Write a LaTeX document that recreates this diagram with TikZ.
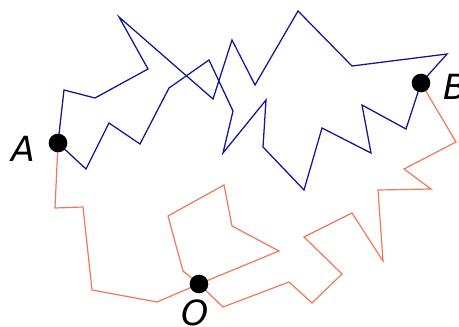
\documentclass[tikz,border=0pt]{standalone}
\usepackage{fontspec}
\setmainfont{DejaVu Sans}
\usepackage{tikz}
\usetikzlibrary{positioning}
\definecolor{walkblue}{RGB}{20,20,150}
\definecolor{walkorange}{RGB}{240,120,90}
\begin{document}
\begin{tikzpicture}[
  x=0.75pt, y=-0.75pt,
  dot/.style={circle, fill=black, inner sep=0pt, minimum size=14pt},
  tag/.style={font=\fontsize{26}{30}\selectfont\itshape, inner sep=0pt},
  upper/.style={draw=walkblue, line width=0.95pt, line join=miter},
  lower/.style={draw=walkorange, line width=0.9pt, line join=miter}
]
\useasboundingbox (0,0) rectangle (459,327);
\coordinate (A) at (58,143);
\coordinate (B) at (421,83);
\coordinate (O) at (199,284);
\draw[upper] (A) -- (64,90) -- (95,98) -- (148,69) -- (119,17) -- (213,99)
  -- (232,40) -- (255,85) -- (298,11) -- (352,66) -- (447,54) -- (B);
\draw[upper] (A) -- (86,169) -- (109,123) -- (140,144) -- (169,88) -- (209,60)
  -- (233,111) -- (223,153) -- (266,100) -- (263,147) -- (304,190) -- (322,128)
  -- (371,153) -- (362,105) -- (406,129) -- (B);
\draw[lower] (A) -- (55,208) -- (83,207) -- (92,290) -- (157,302) -- (O)
  -- (183,271) -- (168,216) -- (224,185) -- (232,226) -- (279,251) -- (O)
  -- (223,307) -- (289,282) -- (312,303) -- (342,274) -- (304,237) -- (352,213)
  -- (383,261) -- (378,190) -- (431,189) -- (404,169) -- (456,142) -- (B);
\node[dot] (dotA) at (A) {};
\node[dot] (dotB) at (B) {};
\node[dot] (dotO) at (O) {};
\node[tag] (labA) at (23,149) {A};
\node[tag] (labB) at (455,87) {B};
\node[tag] (labO) at (195,313) {O};
\end{tikzpicture}
\end{document}
